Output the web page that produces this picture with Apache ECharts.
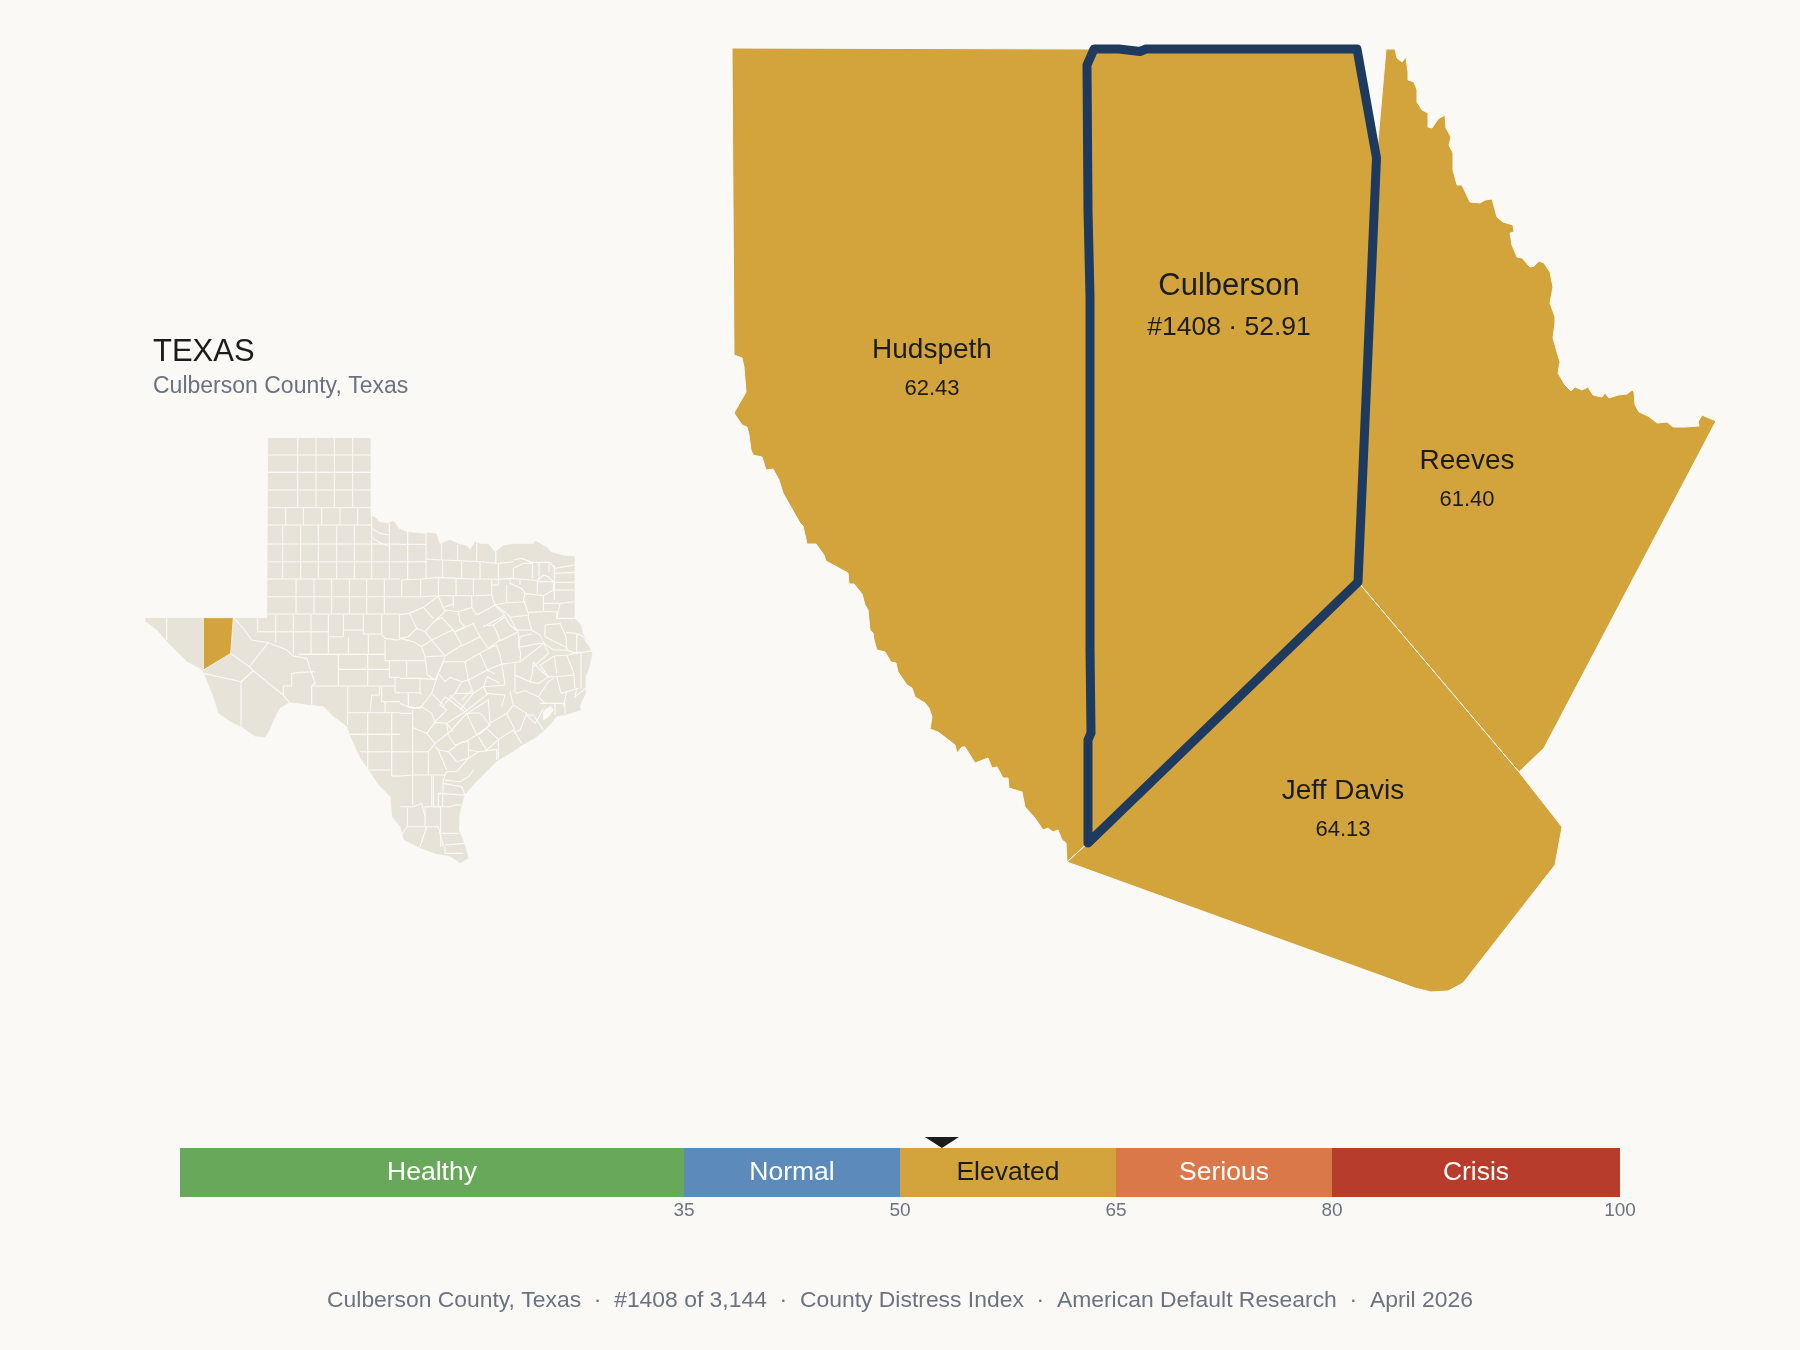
<!DOCTYPE html>
<html lang="en">
<head>
<meta charset="UTF-8">
<title>Culberson County, Texas</title>
<script src="https://cdn.jsdelivr.net/npm/echarts@6/dist/echarts.min.js"></script>
<style>
html, body { margin: 0; padding: 0; background: #FAF9F5; }
#chart { width: 1800px; height: 1350px; }
</style>
</head>
<body>
<div id="chart"></div>
<script>
// county scores
var countyNames = ['Hudspeth', 'Reeves', 'Jeff Davis', 'Culberson'];
var countyScores = [62.43, 61.40, 64.13, 52.91];
var culbersonRank = 1408;

// distress scale
var bandNames = ['Healthy', 'Normal', 'Elevated', 'Serious', 'Crisis'];
var bandSizes = [35, 15, 15, 15, 20];
var bandColors = ['#68A85A', '#5B8ABB', '#D2A43B', '#DA784A', '#B83C2B'];
var scaleTicks = [35, 50, 65, 80, 100];

// county outlines
var hudspethRing = [732,48, 1094,49, 1087,65, 1088,210, 1090,297, 1090,450, 1090,647, 1091,733, 1088,740, 1088,843, 1067,862,
  1066,843, 1062,840, 1058,830, 1053,832, 1048,828, 1043,830, 1035,818, 1025,807, 1022,792, 1009,788, 1008,778, 1003,778,
  997,767, 992,768, 988,758, 975,763, 965,747, 962,747, 957,753, 955,745, 946,738, 938,732, 930,729, 932,717, 929,708,
  925,703, 915,697, 912,688, 907,685, 898,672, 896,663, 891,662, 885,652, 877,650, 874,640, 873,633, 870,630, 868,610,
  865,605, 862,594, 854,584, 849,584, 848,573, 826,561, 824,555, 816,544, 807,544, 803,526, 800,523, 783,493, 779,480,
  773,469, 766,470, 762,457, 753,455, 751,450, 749,435, 747,427, 742,425, 734,413, 746,392, 744,367, 742,358, 734,355];
var culbersonRing = [1094,49, 1119,49, 1140,51.5, 1146,49, 1357,49, 1376.5,158, 1358,582, 1088,843, 1088,740, 1091,733,
  1090,647, 1090,450, 1090,297, 1088,210, 1087,65];
var reevesRing = [1386,49, 1395,49, 1397,58, 1402,62, 1406,57, 1408,72, 1408,80, 1414,82, 1417,90, 1417,102, 1422,110,
  1428,113, 1428,127, 1432,128, 1438,119, 1445,115, 1446,128, 1451,137, 1449,145, 1453,153, 1453,170, 1457,185, 1462,185,
  1470,202, 1480,203, 1485,200, 1492,199, 1497,217, 1503,222, 1513,225, 1514,232, 1510,233, 1512,245, 1517,257, 1522,258,
  1530,267, 1534,266, 1539,261, 1544,263, 1550,272, 1553,287, 1550,303, 1555,317, 1555,323, 1553,338, 1557,352, 1560,362,
  1558,373, 1565,385, 1571,391, 1575,387, 1582,390, 1588,387, 1593,395, 1602,397, 1605,393, 1609,398, 1618,395, 1627,394,
  1632,390, 1634,392, 1635,405, 1639,412, 1648,416, 1657,423, 1667,422, 1673,427, 1685,427, 1699,426, 1698,422, 1702,415,
  1716,421, 1544,748, 1519,772, 1358,582, 1376.5,158];
var jeffDavisRing = [1067,862, 1088,843, 1358,582, 1519,772, 1562,827, 1555,865, 1463,983, 1448,991, 1431,992, 1415,988];

// state inset, traced in its own units
var texasRing = [413,53, 723,53, 723,285, 735,290, 750,305, 775,308, 790,300, 808,325, 835,335, 890,340, 892,336, 920,340,
  930,370, 960,358, 985,370, 1010,375, 1020,387, 1035,362, 1050,370, 1075,370, 1095,395, 1120,375, 1150,370, 1210,370, 1215,360,
  1250,380, 1265,395, 1300,405, 1335,408, 1335,595, 1355,615, 1360,640, 1375,670, 1388,700, 1380,740, 1368,770, 1368,820,
  1350,860, 1355,870, 1310,885, 1280,890, 1265,910, 1240,935, 1215,955, 1180,975, 1150,995, 1100,1025, 1065,1060, 1035,1090,
  1005,1125, 990,1180, 988,1230, 1005,1270, 1017,1315, 990,1330, 960,1310, 915,1302, 870,1285, 820,1260, 810,1220, 785,1190,
  780,1130, 745,1095, 715,1050, 690,1015, 660,950, 650,920, 610,890, 580,860, 530,855, 480,848, 450,865, 430,905, 420,930,
  405,953, 375,950, 340,925, 300,905, 265,880, 245,820, 220,760, 215,750, 170,725, 140,695, 110,665, 80,630, 45,605, 45,593,
  410,593];
var insetCulbersonRing = [220,593, 310,593, 302,700, 220,750];
var galvestonBayRing = [1240,875, 1262,858, 1270,870, 1255,890, 1240,900];

var westCountyLines = [
  // panhandle grid
  [503,53,503,263], [558,53,558,263], [613,53,613,263], [668,53,668,263],
  [413,105,723,105], [413,157,723,157], [413,210,723,210], [413,263,723,263],
  [467,263,467,315], [520,263,520,315], [575,263,575,315], [630,263,630,315], [683,263,683,315],
  [413,315,725,315], [458,315,458,477], [512,315,512,477], [565,315,565,477], [620,315,620,477], [673,315,673,477], [725,285,725,477],
  [413,372,725,372], [413,425,810,425], [410,477,810,477],
  [725,325,750,340,775,345], [725,352,750,368,775,378], [778,310,778,477], [725,372,810,372],
  // rolling plains rows
  [410,530,810,530], [410,582,810,582], [498,477,498,582], [552,477,552,582], [605,477,605,582], [658,477,658,582],
  [710,477,710,582], [763,477,763,582],
  // edwards plateau
  [383,593,383,635,437,635], [437,585,437,668], [490,585,490,700], [543,585,543,703], [595,585,595,703], [640,585,640,630],
  [437,635,595,635], [595,650,640,650,640,630,700,630,700,642,755,642], [700,585,700,630], [755,585,755,642],
  [808,585,808,655], [755,642,765,655,800,660,810,658], [655,650,655,703], [715,645,715,703], [505,703,765,703], [765,660,765,722], [625,703,625,798], [713,703,713,798], [625,748,780,748],
  [545,798,795,798], [765,722,810,722], [778,722,778,772], [778,772,810,772], [795,772,795,818], [795,818,810,818],
  // south
  [653,800,653,915], [653,878,810,878], [713,878,713,1050], [785,878,785,1068], [660,943,810,943],
  [690,995,810,995], [715,1050,785,1050], [785,1068,810,1068],
  [748,800,748,825,725,825,720,875], [755,800,755,845,765,845,765,875], [765,845,810,845],
  // big west counties
  [110,593,110,660], [220,760,333,785,333,920], [333,785,370,752,460,825,480,850], [302,700,358,740,370,752], [358,740,415,668],
  [310,593,340,625,365,660,415,668,470,690,490,708,530,715,545,760,555,790,545,798], [460,825,460,798,485,798,485,760,510,757,555,755], [545,798,545,855]
];

// east half, traced in two tiles whose origins are listed below
var northTileOrigin = [810, 330];
var northTileLines = [
  [23,0,23,147], [0,43,78,43], [0,95,78,95], [78,10,78,145], [125,40,125,90], [173,45,173,90], [230,35,230,92], [287,65,287,100],
  [78,87,125,90,180,92,240,95,295,100], [128,90,128,142], [185,92,185,145], [240,95,240,147], [295,100,295,165],
  [5,150,62,147,115,142,170,145,220,147,275,147,295,148], [62,147,62,200], [115,142,115,197], [168,145,168,197], [220,147,220,197], [275,147,275,195], [5,150,5,200],
  [0,200,62,200,115,197,168,197,220,197,272,195], [272,165,295,165], [320,165,320,218],
  [295,100,340,95], [340,90,365,85,395,97,450,97,465,115,525,105], [340,145,340,115,370,100,397,100], [397,97,397,145], [417,97,417,150], [447,97,447,125],
  [463,105,463,210], [295,148,330,145,360,147,415,152], [330,145,330,160,365,175,375,190,430,197,460,180,525,180], [360,147,360,165],
  [412,152,430,135,445,140,460,155,460,180], [412,155,460,155], [412,155,412,190], [465,130,525,127], [465,157,525,157],
  [375,190,370,210,385,250,385,265,395,300,420,315,432,340], [430,197,430,245], [385,247,430,245], [430,220,480,220,525,215], [480,220,470,265,480,265,530,265],
  [432,245,470,245,470,265], [435,285,480,280,498,320,500,360,530,370], [435,285,435,320,455,330,498,352], [498,307,530,310], [530,325,535,312,550,320,565,345],
  [530,310,530,370,578,362], [543,365,543,475], [500,375,520,425,525,475], [463,378,505,375,540,365], [463,378,470,430],
  // hill country
  [0,253,28,250,70,232,115,198], [70,232,100,265], [115,198,135,245,105,272], [130,232,160,222], [160,197,160,230], [215,197,215,232],
  [135,240,175,245,215,232,230,255], [175,245,180,275,195,290], [28,250,50,295], [0,325,25,320,50,295,75,305,105,272],
  [75,305,95,330], [105,272,125,262,165,305], [165,305,220,280,240,320], [195,290,165,305], [95,330,160,298], [95,330,65,350], [95,330,135,378],
  [0,325,40,335,65,350,75,380,130,378], [160,300,185,345,135,378], [185,348,240,320,265,355,195,395], [135,378,130,395,195,395],
  [230,255,285,225,315,255,250,290], [250,287,280,285,315,260], [280,285,300,330,265,355], [300,332,355,305], [315,260,330,285,355,305],
  [355,310,358,350,362,372], [275,195,285,225], [285,225,320,218,380,215], [320,250,330,262,385,255], [320,250,285,225],
  [330,262,350,300,395,300], [395,312,360,320,355,350], [265,355,290,345,300,375,305,402,360,395,362,372], [305,402,315,465],
  [240,372,265,425], [195,395,205,450,262,420,305,402], [355,352,420,340,432,340,360,395], [432,340,460,360,500,360],
  [432,340,445,370,400,410], [400,395,395,440,390,455,415,460,445,440,420,420,400,395], [463,378,420,405,445,440,470,440,525,435],
  [470,440,483,490,535,475], [390,455,345,435,345,400], [345,435,345,480], [340,480,350,490,375,482,415,500,445,455,460,445],
  [415,500,435,520], [130,395,105,450], [0,445,60,445,105,448], [60,445,60,488], [0,488,60,488,65,495], [0,392,20,392,75,392], [20,392,20,440],
  [75,380,82,435,105,450], [130,395,115,430,135,455,150,442,185,455,205,450], [115,430,95,490,135,530], [185,455,165,490,135,520],
  [205,450,220,490], [165,490,220,490], [220,490,250,470,262,440,300,460], [262,420,285,432], [315,465,250,470], [250,470,260,490,315,495,305,530],
  [220,490,180,540], [150,495,200,540], [95,490,60,535], [25,490,25,530,60,535], [500,485,490,530], [530,475,525,500,558,475], [430,520,465,520]
];
var southTileOrigin = [810, 810];
var southTileLines = [
  [0,40,25,50,40,55,65,50,95,70,105,97], [25,10,25,50], [38,60,38,345], [0,70,38,70],
  [38,112,80,130,105,97,140,100,160,125], [105,95,140,60,120,45,135,20], [80,130,105,160,85,185,0,185], [105,160,150,125,200,70,240,68,270,105,230,135,200,70],
  [85,185,85,255], [0,258,35,255,135,255], [105,170,115,180,140,240], [115,180,145,185,170,215,205,205,205,155,185,155,145,185],
  [145,135,165,165,195,155,230,135], [205,180,235,185,290,178,290,210], [235,185,205,205,170,245], [170,245,140,245,135,255,130,270,180,275,205,260,220,240],
  [235,135,260,115,295,148,340,120,365,160], [295,148,295,205], [235,140,260,180,295,148], [260,115,270,100,320,70,345,120], [270,100,265,30,205,68],
  [320,70,340,45,330,5], [340,45,380,70,360,120,345,125], [380,75,405,100,420,75,430,55], [380,75,400,75,430,120],
  [420,40,495,40,495,70], [465,40,465,75], [130,270,127,350], [130,280,185,290,195,315,115,310,115,350], [115,350,150,350,165,345,185,345],
  [122,350,122,470], [122,430,175,430], [135,465,195,460], [75,350,120,350], [75,350,75,410], [20,410,80,410,60,470], [80,410,115,410,130,470],
  [22,352,22,410], [0,350,40,350,65,340,75,380], [20,410,5,435], [95,258,95,350], [100,258,100,350], [135,470,135,490,190,490],
  [135,20,195,65,140,100,145,135], [265,10,195,65], [185,30,215,0]
];

function toPairs(flat) {
    var pts = [];
    for (var i = 0; i < flat.length; i += 2) {
        pts.push([flat[i], flat[i + 1]]);
    }
    return pts;
}
function shifted(lines, origin) {
    return lines.map(function (line) {
        return toPairs(line).map(function (p) { return [p[0] + origin[0], p[1] + origin[1]]; });
    });
}
function feature(name, ring, cp) {
    var pts = toPairs(ring);
    pts.push(pts[0]);
    return {
        type: 'Feature',
        properties: { name: name, cp: cp },
        geometry: { type: 'Polygon', coordinates: [pts] }
    };
}

// traced units run y-down, so no real projection is needed
var flatProjection = {
    project: function (p) { return p; },
    unproject: function (p) { return p; }
};

echarts.registerMap('counties', {
    type: 'FeatureCollection',
    features: [
        feature('Hudspeth', hudspethRing, [932, 369.5]),
        feature('Reeves', reevesRing, [1467, 481]),
        feature('Jeff Davis', jeffDavisRing, [1343, 811]),
        feature('Culberson', culbersonRing, [1229, 307.5])
    ]
});
echarts.registerMap('texas', {
    type: 'FeatureCollection',
    features: [feature('Texas', texasRing), feature('Culberson', insetCulbersonRing), feature('Galveston Bay', galvestonBayRing)]
});

var FONT = '"Liberation Sans", Arial, sans-serif';
var GOLD = '#D2A43B';
var INK = '#1C1C1C';
var GREY = '#6B7280';
var PAPER = '#FAF9F5';

var insetLines = westCountyLines.map(toPairs)
    .concat(shifted(northTileLines, northTileOrigin))
    .concat(shifted(southTileLines, southTileOrigin));

var chart = echarts.init(document.getElementById('chart'));

var option = {
    animation: false,
    backgroundColor: PAPER,
    title: [
        { text: 'TEXAS', left: 148, top: 332, textStyle: { fontFamily: FONT, fontSize: 31, fontWeight: 'normal', color: INK } },
        { text: 'Culberson County, Texas', left: 148, top: 370, textStyle: { fontFamily: FONT, fontSize: 23, fontWeight: 'normal', color: GREY } },
        { text: 'Culberson County, Texas  \u00b7  #1408 of 3,144  \u00b7  County Distress Index  \u00b7  American Default Research  \u00b7  April 2026',
          left: 'center', top: 1284, textStyle: { fontFamily: FONT, fontSize: 22.9, fontWeight: 'normal', color: GREY } }
    ],
    geo: {
        map: 'texas',
        projection: flatProjection,
        aspectScale: 1,
        left: 145, top: 437.7, width: 447.7, height: 425.7,
        silent: true,
        label: { show: false },
        itemStyle: { areaColor: '#E8E3D8', borderColor: PAPER, borderWidth: 0.8 },
        regions: [
            { name: 'Culberson', itemStyle: { areaColor: GOLD, borderColor: PAPER, borderWidth: 0.8 } },
            { name: 'Galveston Bay', itemStyle: { areaColor: PAPER, borderColor: PAPER, borderWidth: 0.8 } }
        ]
    },
    grid: { left: 180, top: 1148, width: 1440, height: 49 },
    xAxis: {
        type: 'value', min: 0, max: 100,
        axisLine: { show: false },
        axisTick: { show: false },
        splitLine: { show: false },
        axisLabel: { customValues: scaleTicks, margin: 4, fontFamily: FONT, fontSize: 19, color: GREY }
    },
    yAxis: { type: 'category', data: ['scale'], show: false },
    series: [
        {
            type: 'map',
            map: 'counties',
            projection: flatProjection,
            aspectScale: 1,
            left: 732, top: 48, width: 984, height: 944,
            silent: true,
            selectedMode: false,
            itemStyle: { areaColor: GOLD, borderColor: PAPER, borderWidth: 1 },
            data: countyNames.map(function (name, i) {
                var isFocus = name === 'Culberson';
                return {
                    name: name,
                    value: countyScores[i],
                    itemStyle: isFocus ? { areaColor: GOLD, borderColor: '#1F3A5F', borderWidth: 9, borderJoin: 'round' } : undefined
                };
            }),
            label: {
                show: true,
                fontFamily: FONT,
                formatter: function (p) {
                    var score = p.value.toFixed(2);
                    if (p.name === 'Culberson') {
                        return '{bigName|' + p.name + '}\n{bigValue|#' + culbersonRank + ' \u00b7 ' + score + '}';
                    }
                    return '{name|' + p.name + '}\n{value|' + score + '}';
                },
                rich: {
                    name: { fontFamily: FONT, fontSize: 28, lineHeight: 38, color: INK },
                    value: { fontFamily: FONT, fontSize: 22, lineHeight: 39, color: INK },
                    bigName: { fontFamily: FONT, fontSize: 31, lineHeight: 40, color: INK },
                    bigValue: { fontFamily: FONT, fontSize: 26.5, lineHeight: 42, color: INK }
                }
            }
        },
        {
            type: 'lines',
            coordinateSystem: 'geo',
            polyline: true,
            silent: true,
            lineStyle: { color: '#FBFAF7', width: 1.1, opacity: 1 },
            data: insetLines.map(function (pts) { return { coords: pts }; })
        }
    ].concat(bandNames.map(function (name, i) {
        return {
            type: 'bar',
            name: name,
            stack: 'scale',
            barWidth: '100%',
            silent: true,
            itemStyle: { color: bandColors[i] },
            label: {
                show: true,
                position: 'inside',
                formatter: name,
                fontFamily: FONT,
                fontSize: 26.5,
                color: name === 'Elevated' ? INK : '#FFFFFF'
            },
            data: [bandSizes[i]]
        };
    })).concat([{
        type: 'scatter',
        silent: true,
        symbol: 'triangle',
        symbolRotate: 180,
        symbolSize: [34, 11],
        symbolOffset: [0, -30],
        itemStyle: { color: INK, opacity: 1 },
        data: [[countyScores[3], 'scale']]
    }])
};

chart.setOption(option);
</script>
</body>
</html>
